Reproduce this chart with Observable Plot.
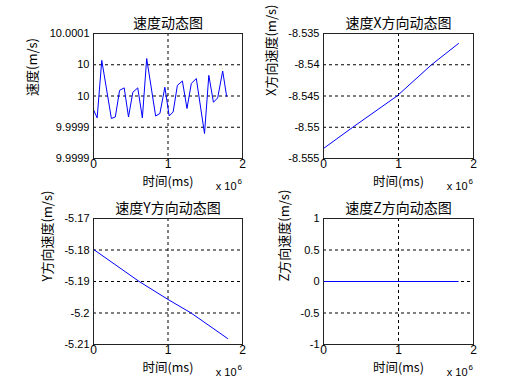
<!DOCTYPE html>
<html><head><meta charset="utf-8">
<script src="https://cdn.jsdelivr.net/npm/d3@7"></script>
<script src="https://cdn.jsdelivr.net/npm/@observablehq/plot@0.6"></script>
<style>
body{margin:0;background:#fff;}
#chart{position:relative;width:522px;height:392px;background:#fff;}
#chart svg{position:absolute;overflow:visible;}
</style></head><body><div id="chart"></div>
<script>
// ---- data (time in ms) ----
const speedTime = [0, 49000, 111000, 240000, 293000, 350000, 412000, 470000, 528000, 594000, 656000, 714000, 834000, 891000, 958000, 1016000, 1069000, 1126000, 1193000, 1255000, 1313000, 1380000, 1490000, 1548000, 1610000, 1667000, 1734000, 1787000];
const speedValues = [9.999928, 9.999915, 10.000007, 9.999914, 9.9999165, 9.999959, 9.999963, 9.9999165, 9.999956, 9.999963, 9.999915, 10.00001, 9.999918, 9.999922, 9.999964, 9.999918, 9.9999245, 9.999967, 9.999974, 9.99993, 9.99997, 9.999978, 9.99989, 9.999983, 9.99994, 9.999947, 9.99999, 9.9999495];
const speedTicks = [9.99985, 9.9999, 9.99995, 10, 10.00005];
const speedTickLabels = ["9.9999", "9.9999", "10", "10", "10.0001"];

const xTime = [0, 390000, 980000, 1440000, 1800000];
const xValues = [-8.5534, -8.5500, -8.5450, -8.5400, -8.5366];
const xTicks = [-8.555, -8.55, -8.545, -8.54, -8.535];
const xTickLabels = ["-8.555", "-8.55", "-8.545", "-8.54", "-8.535"];

const yTime = [0, 613000, 1000000, 1310000, 1800000];
const yValues = [-5.1798, -5.1900, -5.1957, -5.2000, -5.2081];
const yTicks = [-5.21, -5.2, -5.19, -5.18, -5.17];
const yTickLabels = ["-5.21", "-5.2", "-5.19", "-5.18", "-5.17"];

const zTime = [0, 1796000];
const zValues = [0, 0];
const zTicks = [-1, -0.5, 0, 0.5, 1];
const zTickLabels = ["-1", "-0.5", "0", "0.5", "1"];

const timeTicks = [0, 1000000, 2000000];
const timeTickLabels = ["0", "1", "2"];

const titles = ["速度动态图", "速度X方向动态图", "速度Y方向动态图", "速度Z方向动态图"];
const yLabels = ["速度(m/s)", "X方向速度(m/s)", "Y方向速度(m/s)", "Z方向速度(m/s)"];
const xLabel = "时间(ms)";
const xExponent = ["x 10", "6"];

const FONT = '"Liberation Sans", Arial, "Noto Sans CJK SC", sans-serif';
const CJK = '"Noto Sans CJK SC", "Liberation Sans", sans-serif';

function panel({left, top, ml, mr, mt, mb, t, v, ticks, tickLabels, title, ylabel, ylabelDx}) {
  const data = t.map((d, i) => ({t: d, v: v[i]}));
  const p = Plot.plot({
    width: 261, height: 196,
    marginLeft: ml, marginRight: mr, marginTop: mt, marginBottom: mb,
    style: {background: "transparent", fontFamily: FONT, color: "#000"},
    x: {domain: [0, 2000000]},
    y: {domain: [ticks[0], ticks[ticks.length - 1]]},
    marks: [
      Plot.gridY(ticks.slice(1, -1), {stroke: "#000", strokeOpacity: 1, strokeDasharray: "3,3"}),
      Plot.gridX([timeTicks[1]], {stroke: "#000", strokeOpacity: 1, strokeDasharray: "3,3"}),
      Plot.line(data, {x: "t", y: "v", stroke: "#0000ff", strokeWidth: 1}),
      Plot.frame({stroke: "#222"}),
      Plot.axisY(ticks, {tickSize: 0, tickPadding: 4, fontSize: 11, label: null,
        tickFormat: d => tickLabels[ticks.indexOf(d)]}),
      Plot.axisX(timeTicks, {tickSize: 0, tickPadding: 1, fontSize: 12, label: null,
        tickFormat: d => timeTickLabels[timeTicks.indexOf(d)]}),
      Plot.text([title], {text: d => d, frameAnchor: "top", dy: -15, fontSize: 14, fontFamily: CJK, fill: "#000"}),
      Plot.text([xLabel], {text: d => d, frameAnchor: "bottom", dy: 27, fontSize: 12.5, fontFamily: CJK, fill: "#000"}),
      Plot.text([ylabel], {text: d => d, frameAnchor: "left", rotate: -90, dx: ylabelDx, fontSize: 13, fontFamily: CJK, fill: "#000"}),
      Plot.text([xExponent[0]], {text: d => d, frameAnchor: "bottom-right", textAnchor: "end", dx: -6, dy: 31, fontSize: 11, fill: "#000"}),
      Plot.text([xExponent[1]], {text: d => d, frameAnchor: "bottom-right", textAnchor: "start", dx: -5, dy: 25, fontSize: 8, fill: "#000"})
    ]
  });
  p.style.left = left + "px";
  p.style.top = top + "px";
  document.getElementById("chart").appendChild(p);
}

panel({left: 0, top: 0, ml: 93, mr: 19, mt: 33, mb: 38, t: speedTime, v: speedValues,
  ticks: speedTicks, tickLabels: speedTickLabels, title: titles[0], ylabel: yLabels[0], ylabelDx: -61});
panel({left: 261, top: 0, ml: 62, mr: 49, mt: 33, mb: 38, t: xTime, v: xValues,
  ticks: xTicks, tickLabels: xTickLabels, title: titles[1], ylabel: yLabels[1], ylabelDx: -52});
panel({left: 0, top: 196, ml: 93, mr: 19, mt: 22, mb: 48, t: yTime, v: yValues,
  ticks: yTicks, tickLabels: yTickLabels, title: titles[2], ylabel: yLabels[2], ylabelDx: -46});
panel({left: 261, top: 196, ml: 62, mr: 49, mt: 22, mb: 48, t: zTime, v: zValues,
  ticks: zTicks, tickLabels: zTickLabels, title: titles[3], ylabel: yLabels[3], ylabelDx: -39});
</script>
</body></html>
